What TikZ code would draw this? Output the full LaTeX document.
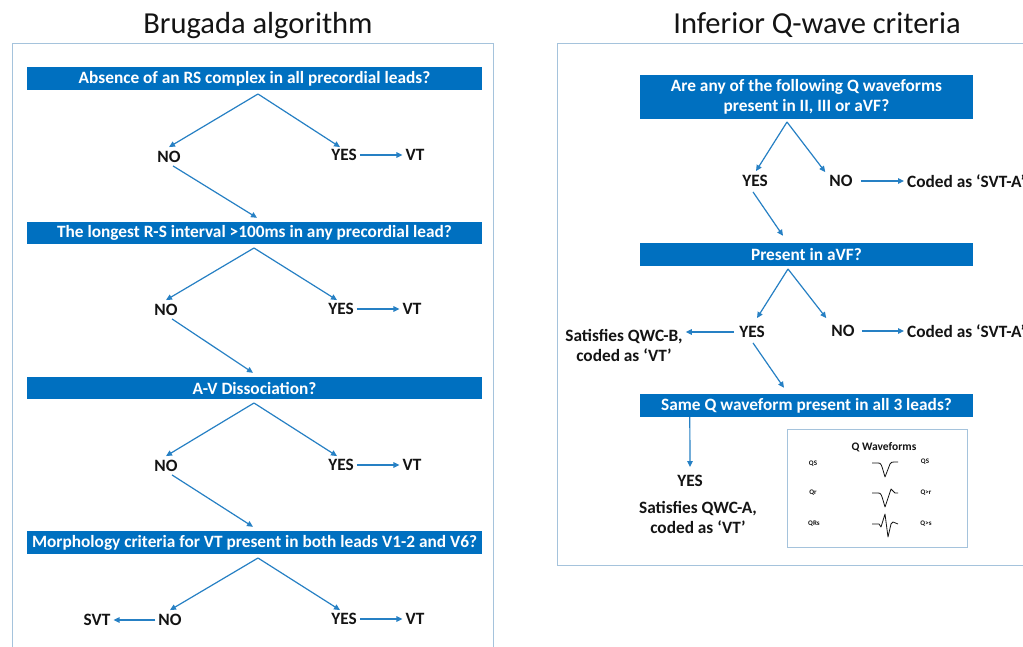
\documentclass[tikz,border=0pt]{standalone}
\usepackage{fontspec}
\setmainfont{Carlito}
\usetikzlibrary{arrows.meta}
\definecolor{boxblue}{RGB}{0,112,192}
\definecolor{arrblue}{RGB}{38,128,196}
\definecolor{frameblue}{RGB}{165,195,220}
\definecolor{txt}{RGB}{20,20,20}
\begin{document}
\begin{tikzpicture}[x=1pt,y=-1pt,
  qbox/.style={fill=boxblue, text=white, font=\bfseries\fontsize{17.3}{20}\selectfont, inner sep=0pt, align=center},
  lbl/.style={font=\bfseries\fontsize{17.3}{20}\selectfont, inner sep=3pt, text=txt, align=center},
  ttl/.style={font=\fontsize{30.5}{34}\selectfont, text=txt, inner sep=0pt, anchor=base},
  arr/.style={draw=arrblue, line width=1.2pt, -{Triangle[length=6pt,width=5.5pt]}},
  frm/.style={draw=frameblue, line width=1pt},
  tiny/.style={font=\bfseries\fontsize{7}{8}\selectfont, text=txt, inner sep=0pt},
  wave/.style={draw=txt, line width=0.8pt, line join=round}
]
\clip (0,0) rectangle (1023,646);
\fill[white] (0,0) rectangle (1023,646);

% ---------- Left panel ----------
\node[ttl] (t1) at (258,33) {Brugada algorithm};
\draw[frm] (12,660) -- (12,43) -- (493,43) -- (493,660);

\node[qbox, minimum width=455pt, minimum height=23pt] (b1) at (254.5,78.5) {Absence of an RS complex in all precordial leads?};
\node[qbox, minimum width=455pt, minimum height=22pt] (b2) at (254.5,233) {The longest R-S interval >100ms in any precordial lead?};
\node[qbox, minimum width=455pt, minimum height=22pt] (b3) at (254.5,388) {A-V Dissociation?};
\node[qbox, minimum width=455pt, minimum height=23pt] (b4) at (254.5,542.5) {Morphology criteria for VT present in both leads V1-2 and V6?};

\node[lbl] (no1) at (169,157) {NO};
\node[lbl] (yes1) at (344,155) {YES};
\node[lbl] (vt1) at (415,155) {VT};
\node[lbl] (no2) at (166,310) {NO};
\node[lbl] (yes2) at (341,309) {YES};
\node[lbl] (vt2) at (412,309) {VT};
\node[lbl] (no3) at (166,466) {NO};
\node[lbl] (yes3) at (341,465) {YES};
\node[lbl] (vt3) at (412,465) {VT};
\node[lbl] (no4) at (170,620) {NO};
\node[lbl] (yes4) at (344,619) {YES};
\node[lbl] (vt4) at (415,619) {VT};
\node[lbl] (svt) at (97,620) {SVT};

\coordinate (a1) at (258,94);
\coordinate (a2) at (254,248);
\coordinate (a3) at (254,403);
\coordinate (a4) at (258,558);

\draw[arr] (a1) -- ([yshift=1pt]no1.north);
\draw[arr] (a1) -- ([xshift=-4pt,yshift=-1pt]yes1.north);
\draw[arr] (yes1.east) -- (vt1.west);
\draw[arr] ([xshift=4pt]no1.south) -- ([xshift=2.5pt,yshift=4pt]b2.north);

\draw[arr] (a2) -- ([yshift=1pt]no2.north);
\draw[arr] (a2) -- ([xshift=-4pt,yshift=0pt]yes2.north);
\draw[arr] (yes2.east) -- (vt2.west);
\draw[arr] ([xshift=6pt]no2.south) -- ([xshift=-1.5pt,yshift=4pt]b3.north);

\draw[arr] (a3) -- ([yshift=1pt]no3.north);
\draw[arr] (a3) -- ([xshift=-4pt,yshift=0pt]yes3.north);
\draw[arr] (yes3.east) -- (vt3.west);
\draw[arr] ([xshift=6pt]no3.south) -- ([xshift=-1.5pt,yshift=4pt]b4.north);

\draw[arr] (a4) -- ([yshift=1pt]no4.north);
\draw[arr] (a4) -- ([xshift=-4pt,yshift=0pt]yes4.north);
\draw[arr] (yes4.east) -- (vt4.west);
\draw[arr] (no4.west) -- (svt.east);

% ---------- Right panel ----------
\node[ttl] (t2) at (817,33) {Inferior Q-wave criteria};
\draw[frm] (1040,565) -- (557,565) -- (557,43) -- (1040,43);

\node[qbox, minimum width=333pt, minimum height=44pt] (r1) at (806.5,97) {Are any of the following Q waveforms\\present in II, III or aVF?};
\node[qbox, minimum width=333pt, minimum height=23pt] (r2) at (806.5,254.5) {Present in aVF?};
\node[qbox, minimum width=333pt, minimum height=23pt] (r3) at (806.5,405.5) {Same Q waveform present in all 3 leads?};

\node[lbl] (yr1) at (755,181) {YES};
\node[lbl] (nr1) at (841,181) {NO};
\node[lbl, anchor=west] (cr1) at (904,181) {Coded as ‘SVT-A’};
\node[lbl] (yr2) at (752,332) {YES};
\node[lbl] (nr2) at (843,331) {NO};
\node[lbl, anchor=west] (cr2) at (904,331) {Coded as ‘SVT-A’};
\node[lbl] (qb) at (624,345) {Satisfies QWC-B,\\coded as ‘VT’};
\node[lbl] (yr3) at (690,481) {YES};
\node[lbl] (qa) at (698,517) {Satisfies QWC-A,\\coded as ‘VT’};

\coordinate (ra1) at (787,122);
\coordinate (ra2) at (788,269);

\draw[arr] (ra1) -- ([xshift=1pt,yshift=1pt]yr1.north);
\draw[arr] (ra1) -- ([xshift=-1pt,yshift=0pt]nr1.north west);
\draw[arr] ([xshift=5pt]nr1.east) -- (cr1.west);
\draw[arr] ([xshift=-2pt,yshift=-2pt]yr1.south) -- ([xshift=-23.5pt,yshift=7pt]r2.north);

\draw[arr] (ra2) -- ([xshift=5pt,yshift=5pt]yr2.north);
\draw[arr] (ra2) -- ([xshift=-2pt,yshift=4pt]nr2.north west);
\draw[arr] ([xshift=4pt]nr2.east) -- (cr2.west);
\draw[arr] ([xshift=-2pt]yr2.west) -- (yr2.west -| qb.east);
\draw[arr] ([xshift=1pt,yshift=-2pt]yr2.south) -- ([xshift=-22.5pt,yshift=6pt]r3.north);

\draw[arr] ([xshift=50pt]r3.south west) -- ([yshift=5pt]yr3.north);

% inset
\node[draw=frameblue, line width=1pt, minimum width=180pt, minimum height=118pt, inner sep=0pt] (ins) at (877,488) {};
\node[font=\bfseries\fontsize{11.5}{13}\selectfont, text=txt, inner sep=0pt] (qw) at (884,447) {Q Waveforms};
\node[tiny] (l1) at (813,464) {QS};
\node[tiny] (l2) at (813,493) {Qr};
\node[tiny] (l3) at (814,524) {QRs};
\node[tiny] (m1) at (925,462) {QS};
\node[tiny] (m2) at (926,493) {Q>r};
\node[tiny] (m3) at (926,524) {Q>s};
\draw[wave] (872,463) -- (878,463) .. controls (881,463) .. (885,477) -- (890,464) .. controls (891,462) .. (898,462);
\draw[wave] (872,493) -- (878,493) .. controls (881,493) .. (885,507) -- (891,489) -- (895,493) -- (898,493);
\draw[wave] (872,524) -- (879,524) -- (881,527) -- (885,514) -- (888,537) -- (891,524) -- (893,522) -- (898,524);
\end{tikzpicture}
\end{document}
